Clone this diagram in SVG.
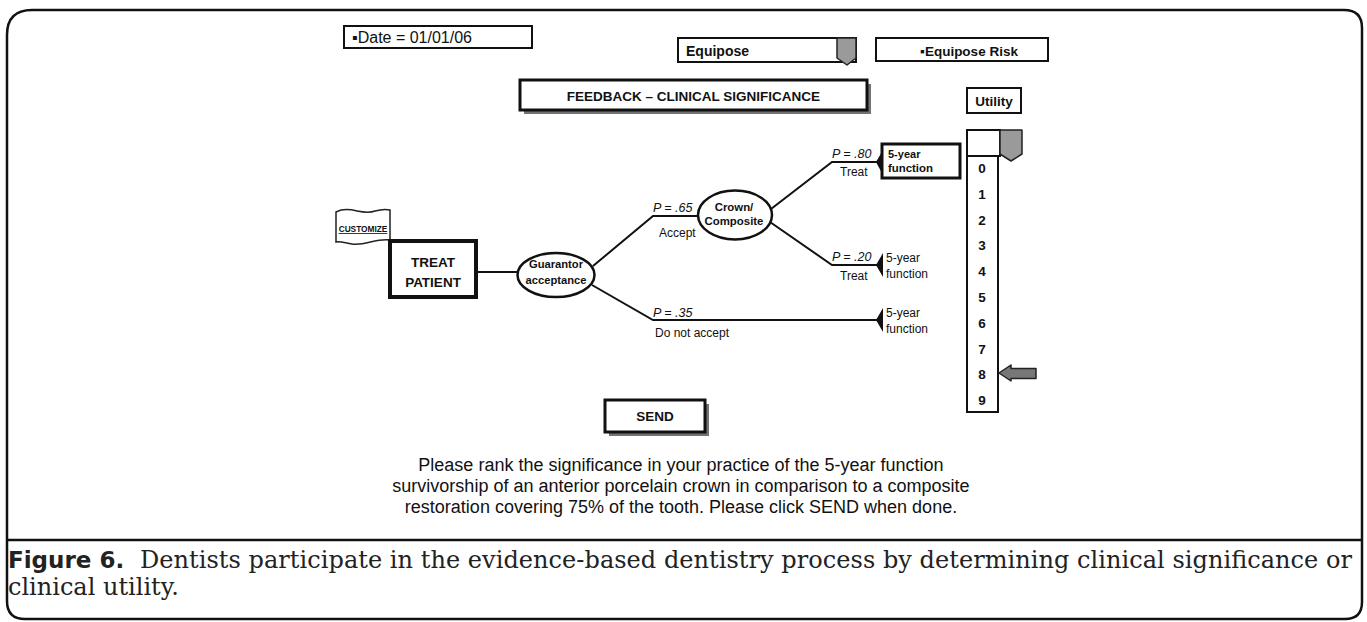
<svg xmlns="http://www.w3.org/2000/svg" width="1367" height="622" viewBox="0 0 1367 622">
  <style>
    .sans { font-family: "Liberation Sans", Arial, sans-serif; fill: #111; }
    .b { font-weight: bold; }
    .box { fill: #fff; stroke: #111; stroke-width: 2; }
    .thick { fill: #fff; stroke: #111; stroke-width: 3; }
    .shadow { fill: #444; opacity: 0.75; }
    .ptr { fill: #9a9a9a; stroke: #222; stroke-width: 1.5; stroke-linejoin: round; }
    .edge { fill: none; stroke: #111; stroke-width: 2; }
    .term { fill: #111; }
    .chance { fill: #fff; stroke: #111; stroke-width: 2.5; }
    .prob { font-style: italic; font-size: 12.5px; }
    .lbl { font-size: 12px; }
    .num { font-weight: bold; font-size: 13.5px; text-anchor: middle; }
    .serif { font-family: "DejaVu Serif", "Liberation Serif", serif; fill: #222; }
  </style>

  <!-- outer frame with caption separator -->
  <path d="M7,35 Q7,10 32,10 L1344,10 Q1362,10 1362,28 L1362,602 Q1362,619 1345,619 L25,619 Q7,619 7,601 Z" fill="#fff" stroke="#111" stroke-width="2.5"/>
  <line x1="7" y1="540" x2="1362" y2="540" stroke="#111" stroke-width="2.5"/>

  <!-- header controls -->
  <g id="date">
    <rect class="box" x="344" y="26" width="188" height="22"/>
    <text class="sans" x="352" y="42.5" font-size="16">▪Date = 01/01/06</text>
  </g>
  <g id="equipose">
    <rect class="box" x="678" y="38" width="178" height="24"/>
    <path class="ptr" d="M837,38 L856,38 L856,58 L847,65 L837,58 Z"/>
    <text class="sans b" x="686" y="56" font-size="14">Equipose</text>
  </g>
  <g id="equipose-risk">
    <rect class="box" x="876" y="38" width="172" height="23"/>
    <text class="sans b" x="969" y="55.5" font-size="13.5" text-anchor="middle">▪Equipose Risk</text>
  </g>
  <g id="feedback">
    <rect class="shadow" x="524" y="84" width="347" height="30"/>
    <rect class="thick" x="520" y="80" width="347" height="30"/>
    <text class="sans b" x="693.5" y="100.5" font-size="13.5" text-anchor="middle">FEEDBACK – CLINICAL SIGNIFICANCE</text>
  </g>

  <!-- utility scale -->
  <g id="utility-label">
    <rect class="box" x="967" y="88" width="54" height="25"/>
    <text class="sans b" x="994" y="105.5" font-size="13.5" text-anchor="middle">Utility</text>
  </g>
  <g id="utility-scale">
    <rect class="box" x="967" y="156" width="31" height="256"/>
    <rect class="box" x="967" y="130" width="33" height="26"/>
    <path class="ptr" d="M1000,130 L1022,130 L1022,154 L1011,161 L1000,154 Z"/>
    <text class="sans num" x="982" y="173">0</text>
    <text class="sans num" x="982" y="199">1</text>
    <text class="sans num" x="982" y="225">2</text>
    <text class="sans num" x="982" y="250">3</text>
    <text class="sans num" x="982" y="276">4</text>
    <text class="sans num" x="982" y="302">5</text>
    <text class="sans num" x="982" y="328">6</text>
    <text class="sans num" x="982" y="354">7</text>
    <text class="sans num" x="982" y="379">8</text>
    <text class="sans num" x="982" y="405">9</text>
    <path d="M999,373 L1011,365 L1011,368.5 L1036,368.5 L1036,378.5 L1011,378.5 L1011,381 Z" fill="#777" stroke="#222" stroke-width="1.5" stroke-linejoin="round"/>
  </g>

  <!-- connectors -->
  <g id="connectors">
    <line class="edge" x1="477" y1="272" x2="518" y2="272"/>
    <polyline class="edge" points="593,266 653,216 699,216"/>
    <polyline class="edge" points="592,285 653,320 877,320"/>
    <polyline class="edge" points="771,209 832,162 877,162"/>
    <polyline class="edge" points="770,222 832,265 877,265"/>
    <path class="term" d="M876,265 L883,253 L883,277 Z"/>
    <path class="term" d="M876,320 L883,308 L883,332 Z"/>
  </g>

  <!-- branch labels -->
  <g id="branch-labels" class="sans">
    <text class="prob" x="653" y="212">P = .65</text>
    <text class="lbl" x="659" y="237">Accept</text>
    <text class="prob" x="653" y="317">P = .35</text>
    <text class="lbl" x="655" y="337">Do not accept</text>
    <text class="prob" x="832" y="158">P = .80</text>
    <text class="lbl" x="840" y="176">Treat</text>
    <text class="prob" x="832" y="261">P = .20</text>
    <text class="lbl" x="840" y="280">Treat</text>
  </g>

  <!-- decision node -->
  <g id="customize">
    <path d="M336,212 C350,205 362,216 375,211 C382,209 386,209 390,210 L390,240 C376,238 365,246 352,244 C345,243 340,241 336,242 Z" fill="#fff" stroke="#222" stroke-width="1.5"/>
    <text class="sans b" x="363" y="232" font-size="8.3" text-anchor="middle" text-decoration="underline">CUSTOMIZE</text>
  </g>
  <g id="treat-patient">
    <rect x="390" y="241" width="86" height="56" fill="#fff" stroke="#111" stroke-width="4"/>
    <text class="sans b" x="433" y="267" font-size="13.5" text-anchor="middle">TREAT</text>
    <text class="sans b" x="433" y="287" font-size="13.5" text-anchor="middle">PATIENT</text>
  </g>

  <!-- chance nodes -->
  <g id="guarantor">
    <ellipse class="chance" cx="556" cy="275" rx="38.5" ry="22"/>
    <text class="sans b" x="556" y="268" font-size="11.2" text-anchor="middle">Guarantor</text>
    <text class="sans b" x="556" y="283.5" font-size="11.2" text-anchor="middle">acceptance</text>
  </g>
  <g id="crown-composite">
    <ellipse class="chance" cx="735" cy="215" rx="37" ry="24.5"/>
    <text class="sans b" x="734" y="210.5" font-size="11.4" text-anchor="middle">Crown/</text>
    <text class="sans b" x="734" y="225" font-size="11.4" text-anchor="middle">Composite</text>
  </g>

  <!-- terminal nodes -->
  <g id="outcome-treat-80">
    <rect class="thick" x="882" y="144" width="78" height="34"/>
    <path class="term" d="M876,162 L883,150 L883,175 Z"/>
    <text class="sans b" x="888" y="158" font-size="11">5-year</text>
    <text class="sans b" x="888" y="171.5" font-size="11.4">function</text>
  </g>
  <g id="outcome-treat-20">
    <text class="sans" x="886" y="262" font-size="12">5-year</text>
    <text class="sans" x="886" y="278" font-size="12">function</text>
  </g>
  <g id="outcome-decline">
    <text class="sans" x="886" y="317" font-size="12">5-year</text>
    <text class="sans" x="886" y="333" font-size="12">function</text>
  </g>

  <!-- send button -->
  <g id="send">
    <rect class="shadow" x="609" y="404" width="100" height="32"/>
    <rect class="thick" x="605" y="400" width="100" height="32"/>
    <text class="sans b" x="655" y="421" font-size="13.5" text-anchor="middle">SEND</text>
  </g>

  <!-- instructions -->
  <g id="instructions" class="sans" font-size="18" text-anchor="middle">
    <text x="681" y="471">Please rank the significance in your practice of the 5-year function</text>
    <text x="681" y="492">survivorship of an anterior porcelain crown in comparison to a composite</text>
    <text x="681" y="513">restoration covering 75% of the tooth. Please click SEND when done.</text>
  </g>

  <!-- caption -->
  <g id="caption">
    <text x="8" y="568" font-family="'DejaVu Sans', sans-serif" font-weight="bold" font-size="23" fill="#222">Figure 6.</text>
    <text class="serif" x="140" y="568" font-size="24" textLength="1212" lengthAdjust="spacing">Dentists participate in the evidence-based dentistry process by determining clinical significance or</text>
    <text class="serif" x="8" y="595" font-size="24">clinical utility.</text>
  </g>
</svg>
